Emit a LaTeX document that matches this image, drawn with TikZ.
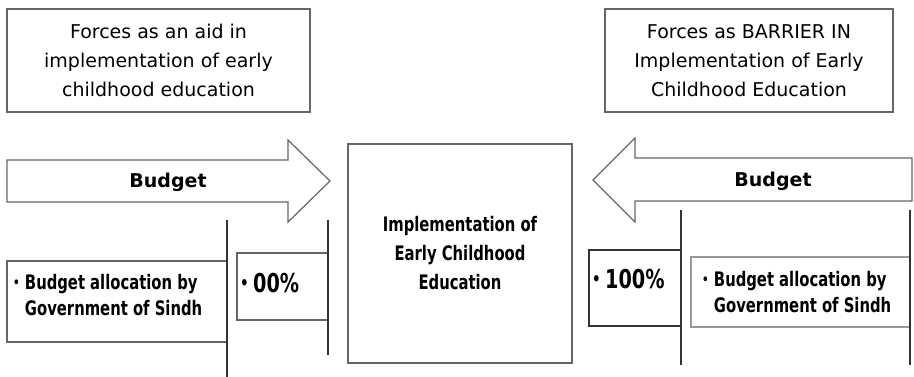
\documentclass[tikz,border=0pt]{standalone}
\usepackage{graphicx}
\usepackage{fontspec}
\setmainfont{DejaVu Sans}
\newfontfamily\condf[FakeStretch=0.74]{DejaVu Sans}
\newcommand{\smbul}{\raisebox{0.12em}{\scalebox{0.7}{\textbullet}}}
\begin{document}
\begin{tikzpicture}[x=1pt,y=-1pt,
  box/.style={draw=black!60, line width=1.1pt, inner sep=0pt},
  lightbox/.style={draw=black!40, line width=1.1pt, inner sep=0pt},
  arrowshape/.style={draw=black!60, line width=1.2pt, fill=white, line join=miter},
  vline/.style={draw=black!80, line width=1.2pt},
  toptext/.style={font=\fontsize{19}{29}\selectfont, align=center},
  arrowtext/.style={font=\bfseries\fontsize{19}{23}\selectfont},
  ctrtext/.style={font=\condf\bfseries\fontsize{20}{29}\selectfont, align=center},
  bullettext/.style={font=\condf\bfseries\fontsize{20}{26}\selectfont, align=left, anchor=west, inner sep=0pt},
  pcttext/.style={font=\condf\bfseries\fontsize{26}{28}\selectfont, anchor=west, inner sep=0pt}
]
\useasboundingbox (0,0) rectangle (914,377);
\fill[white] (0,0) rectangle (914,377);

% top boxes
\node[box, minimum width=303pt, minimum height=103pt, toptext] (tl) at (158.5,60.5)
  {Forces as an aid in\\implementation of early\\childhood education};
\node[box, minimum width=288pt, minimum height=103pt, toptext] (tr) at (749,60.5)
  {Forces as BARRIER IN\\Implementation of Early\\Childhood Education};

% arrows
\draw[arrowshape] (7,160) -- (288,160) -- (288,140) -- (330,181) -- (288,222) -- (288,202) -- (7,202) -- cycle;
\node[arrowtext] (bl) at (168,182) {Budget};
\draw[arrowshape] (912,158) -- (635,158) -- (635,138) -- (593,180) -- (635,222) -- (635,201) -- (912,201) -- cycle;
\node[arrowtext] (br) at (773,181) {Budget};

% centre box
\node[box, minimum width=224pt, minimum height=219pt, ctrtext] (ctr) at (460,253.5)
  {Implementation of\\Early Childhood\\Education};

% left side
\coordinate (l1a) at (227,220); \coordinate (l1b) at (227,377);
\coordinate (l2a) at (328,220); \coordinate (l2b) at (328,355);
\node[box, minimum width=220pt, minimum height=81pt] (lb) at (117,301.5) {};
\node[bullettext] (lbt) at (13,295) {\smbul\ Budget allocation by\\\hphantom{\smbul\ }Government of Sindh};
\node[box, minimum width=91pt, minimum height=67pt] (lp) at (282.5,286.5) {};
\node[pcttext] (lpt) at (240,283) {\smbul\,00\%};
\draw[vline] (l1a) -- (l1b);
\draw[vline] (l2a) -- (l2b);

% right side
\coordinate (r1a) at (681,210); \coordinate (r1b) at (681,365);
\coordinate (r2a) at (910,210); \coordinate (r2b) at (910,365);
\node[box, draw=black!80, minimum width=92pt, minimum height=76pt] (rp) at (635,288) {};
\node[pcttext] (rpt) at (592,279) {\smbul\,100\%};
\node[lightbox, minimum width=219pt, minimum height=70pt] (rb) at (800.5,292) {};
\node[bullettext] (rbt) at (702,292) {\smbul\ Budget allocation by\\\hphantom{\smbul\ }Government of Sindh};
\draw[vline] (r1a) -- (r1b);
\draw[vline] (r2a) -- (r2b);
\end{tikzpicture}
\end{document}
